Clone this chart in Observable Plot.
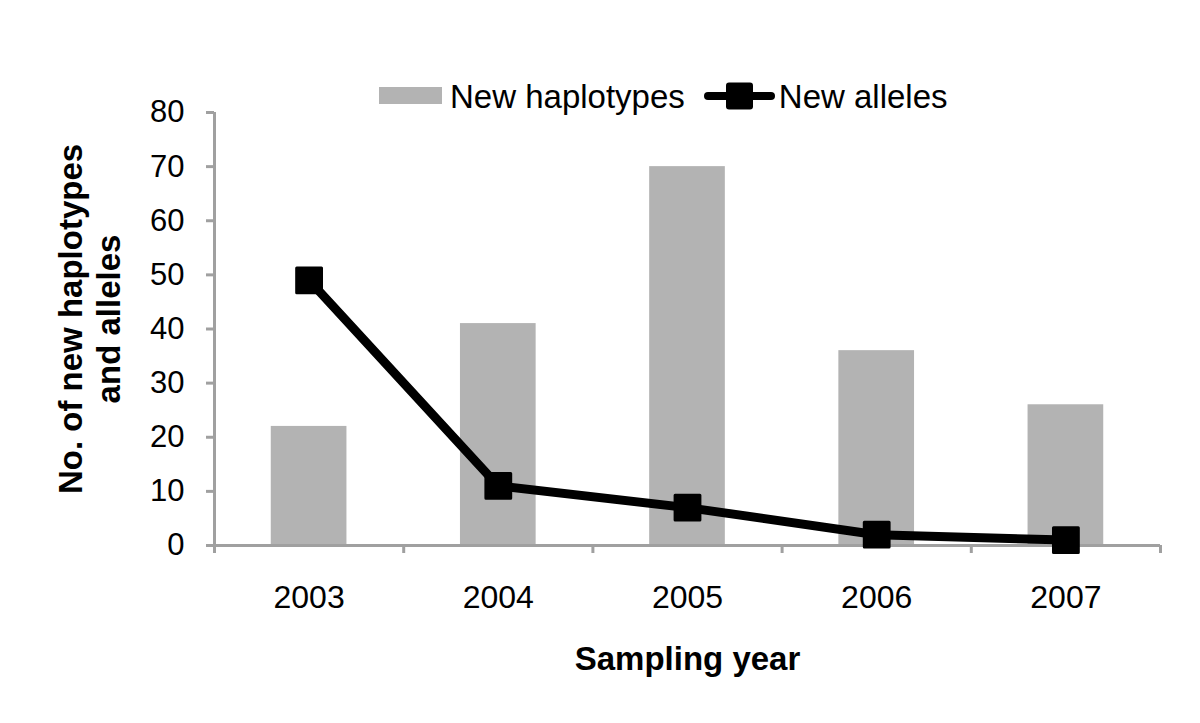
<!DOCTYPE html>
<html>
<head>
<meta charset="utf-8">
<script src="https://cdn.jsdelivr.net/npm/d3@7"></script>
<script src="https://cdn.jsdelivr.net/npm/@observablehq/plot@0.6"></script>
<style>
  html, body { margin: 0; padding: 0; background: #fff; }
  body { width: 1200px; height: 723px; overflow: hidden; font-family: "Liberation Sans", Arial, Helvetica, sans-serif; }
  #legend { position: relative; height: 112px; }
  #legend .row { position: absolute; left: 379px; top: 79px; height: 36px; display: flex; align-items: center; font-size: 33px; color: #000; white-space: nowrap; }
  #legend .sw { width: 63px; height: 17px; background: #b3b3b3; margin-right: 8px; margin-top: -4px; }
  #legend .ln { margin-left: 19px; margin-right: 4px; margin-top: -3px; display: block; }
</style>
</head>
<body>
<div id="legend"></div>
<div id="chart"></div>
<script>
const years = [2003, 2004, 2005, 2006, 2007];
const newHaplotypes = [22, 41, 70, 36, 26];
const newAlleles = [49, 11, 7, 2, 1];
const yTicks = [0, 10, 20, 30, 40, 50, 60, 70, 80];
const seriesNames = ["New haplotypes", "New alleles"];
const xTitle = "Sampling year";
const yTitle = "No. of new haplotypes\nand alleles";

const data = years.map((year, i) => ({year, hap: newHaplotypes[i], alleles: newAlleles[i]}));
const xDomain = [years[0] - 0.5, years[years.length - 1] + 0.5];
const boundaries = years.map(y => y - 0.5).concat([years[years.length - 1] + 0.5]);

const axisGray = "#a0a0a0";
const barGray = "#b3b3b3";

// Legend
const legend = document.getElementById("legend");
legend.innerHTML = `<div class="row">
  <span class="sw"></span><span>${seriesNames[0]}</span>
  <svg class="ln" width="71" height="30" viewBox="0 0 71 30">
    <line x1="4" y1="15" x2="67" y2="15" stroke="#000" stroke-width="8" stroke-linecap="round"/>
    <rect x="22" y="1.5" width="27" height="27" rx="3" fill="#000"/>
  </svg><span>${seriesNames[1]}</span></div>`;

const chart = Plot.plot({
  width: 1200,
  height: 611,
  marginTop: 0,
  marginLeft: 214,
  marginRight: 40,
  marginBottom: 178,
  style: {overflow: "visible", fontFamily: "'Liberation Sans', Arial, Helvetica, sans-serif", background: "transparent"},
  x: {type: "linear", domain: xDomain},
  y: {domain: [0, 80]},
  marks: [
    Plot.rectY(data, {x1: d => d.year - 0.2, x2: d => d.year + 0.2, y: "hap", fill: barGray}),
    Plot.ruleX([xDomain[0]], {y1: 0, y2: 80, stroke: axisGray, strokeWidth: 3}),
    Plot.ruleY([0], {x1: xDomain[0], x2: xDomain[1], stroke: axisGray, strokeWidth: 3}),
    Plot.axisY({ticks: yTicks, tickSize: 8, tickPadding: 22, stroke: axisGray, strokeWidth: 3, fill: "#000", fontSize: 31, label: null, tickFormat: d => String(d)}),
    Plot.axisX({ticks: boundaries, tickSize: 8, stroke: axisGray, strokeWidth: 3, tickFormat: () => "", label: null}),
    Plot.axisX({ticks: years, tickSize: 0, tickPadding: 40, fill: "#000", fontSize: 32, tickFormat: d => String(d), label: null}),
    Plot.line(data, {x: "year", y: "alleles", stroke: "#000", strokeWidth: 9, strokeLinejoin: "round"}),
    Plot.dot(data, {x: "year", y: "alleles", symbol: "square", r: 14, fill: "#000", stroke: "#000", strokeWidth: 3, strokeLinejoin: "round"}),
    Plot.text([xTitle], {frameAnchor: "bottom", lineAnchor: "top", dy: 101, fontSize: 33, fontWeight: "bold", fill: "#000"}),
    Plot.text([yTitle], {frameAnchor: "left", rotate: -90, textAnchor: "middle", lineAnchor: "middle", lineHeight: 1.18, dx: -126, dy: -10, fontSize: 33, fontWeight: "bold", fill: "#000"})
  ]
});
document.getElementById("chart").appendChild(chart);
</script>
</body>
</html>
